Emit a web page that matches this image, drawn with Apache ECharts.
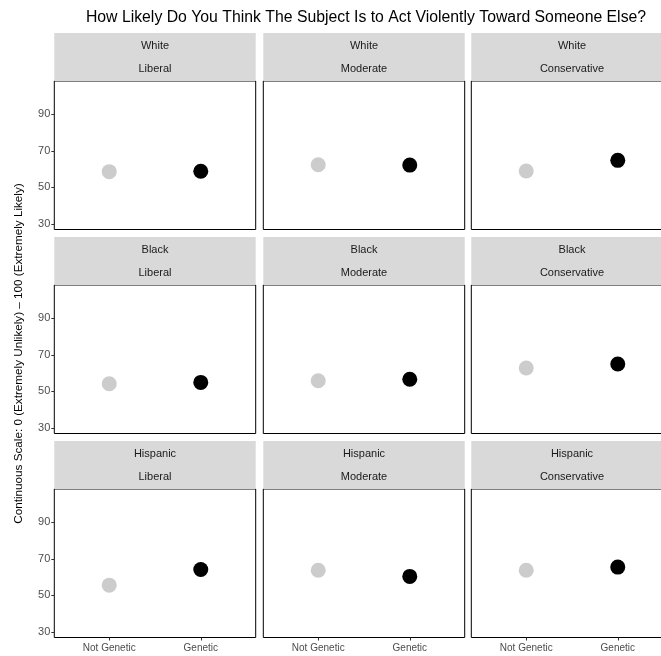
<!DOCTYPE html>
<html>
<head>
<meta charset="utf-8">
<script src="https://cdn.jsdelivr.net/npm/echarts@6/dist/echarts.min.js"></script>
<style>html,body{margin:0;padding:0;background:#fff}#c{width:661px;height:656px}</style>
</head>
<body>
<div id="c"></div>
<script>
var categories = ['Not Genetic', 'Genetic'];
var races = ['White', 'Black', 'Hispanic'];
var ideologies = ['Liberal', 'Moderate', 'Conservative'];
// values per panel [Not Genetic, Genetic], rows = race, cols = ideology
var whiteValues = [[58.6, 58.8], [62.4, 62.2], [59.0, 64.8]];
var blackValues = [[54.2, 54.9], [55.8, 56.6], [62.8, 65.0]];
var hispanicValues = [[55.6, 64.2], [63.8, 60.4], [63.8, 65.5]];
var yTicks = [30, 50, 70, 90];
var pointColors = ['#cccccc', '#000000'];
var titleText = 'How Likely Do You Think The Subject Is to Act Violently Toward Someone Else?';
var yTitle = 'Continuous Scale: 0 (Extremely Unlikely) \u2013 100 (Extremely Likely)';

var allValues = [whiteValues, blackValues, hispanicValues];
var FONT = 'Liberation Sans, Arial, sans-serif';
var colLeft = [54.3, 263.3, 471.3], panelW = 201.4;
var rowTop = [81, 285, 489], panelH = 148.5, stripH = 48;
var catPos = categories.map(function (c, k) { return k + 1; });

var grids = [], xAxes = [], yAxes = [], series = [], graphics = [];
for (var r = 0; r < 3; r++) {
  for (var c = 0; c < 3; c++) {
    var i = r * 3 + c;
    grids.push({left: colLeft[c], top: rowTop[r], height: panelH, width: panelW,
      outerBoundsMode: 'none',
      show: true, borderColor: '#000', borderWidth: 1, backgroundColor: '#fff', containLabel: false});
    xAxes.push({type: 'value', gridIndex: i, min: 0.4, max: 2.6,
      axisLine: {show: false},
      axisTick: {show: r === 2, length: 3, customValues: catPos, lineStyle: {color: '#333'}},
      axisLabel: {show: r === 2, fontSize: 10, color: '#4d4d4d', fontFamily: FONT, margin: 6,
        customValues: catPos, formatter: function (v) { return categories[Math.round(v) - 1]; }},
      splitLine: {show: false}});
    yAxes.push({type: 'value', gridIndex: i, min: 26.9, max: 108.3,
      axisLine: {show: false},
      axisTick: {show: c === 0, length: 3, customValues: yTicks, lineStyle: {color: '#333'}},
      axisLabel: {show: c === 0, fontSize: 11, color: '#4d4d4d', fontFamily: FONT, margin: 4, customValues: yTicks},
      splitLine: {show: false}});
    var vals = allValues[r][c];
    series.push({type: 'scatter', xAxisIndex: i, yAxisIndex: i, symbolSize: 15, silent: true,
      data: categories.map(function (cat, k) {
        return {value: [catPos[k], vals[k]], itemStyle: {color: pointColors[k], opacity: 1}};
      })});
    // strip
    graphics.push({type: 'rect', shape: {x: colLeft[c], y: rowTop[r] - stripH, width: panelW, height: stripH},
      style: {fill: '#d9d9d9'}, z: 0});
    graphics.push({type: 'text', x: colLeft[c] + panelW / 2, y: rowTop[r] - stripH + 12.5,
      style: {text: races[r], fill: '#1a1a1a', font: '11px ' + FONT, textAlign: 'center', textVerticalAlign: 'middle'}});
    graphics.push({type: 'text', x: colLeft[c] + panelW / 2, y: rowTop[r] - stripH + 35.5,
      style: {text: ideologies[c], fill: '#1a1a1a', font: '11px ' + FONT, textAlign: 'center', textVerticalAlign: 'middle'}});
  }
}
graphics.push({type: 'text', x: 19, y: 353.5, rotation: Math.PI / 2,
  style: {text: yTitle, fill: '#000', font: '11.7px ' + FONT, textAlign: 'center', textVerticalAlign: 'middle'}});

var chart = echarts.init(document.getElementById('c'), null, {renderer: 'canvas'});
chart.setOption({
  animation: false,
  backgroundColor: '#fff',
  title: {text: titleText, left: 361, top: 5, textAlign: 'center',
    textStyle: {fontSize: 15.8, fontWeight: 'normal', color: '#000', fontFamily: FONT}},
  grid: grids, xAxis: xAxes, yAxis: yAxes, series: series, graphic: graphics
});
</script>
</body>
</html>
